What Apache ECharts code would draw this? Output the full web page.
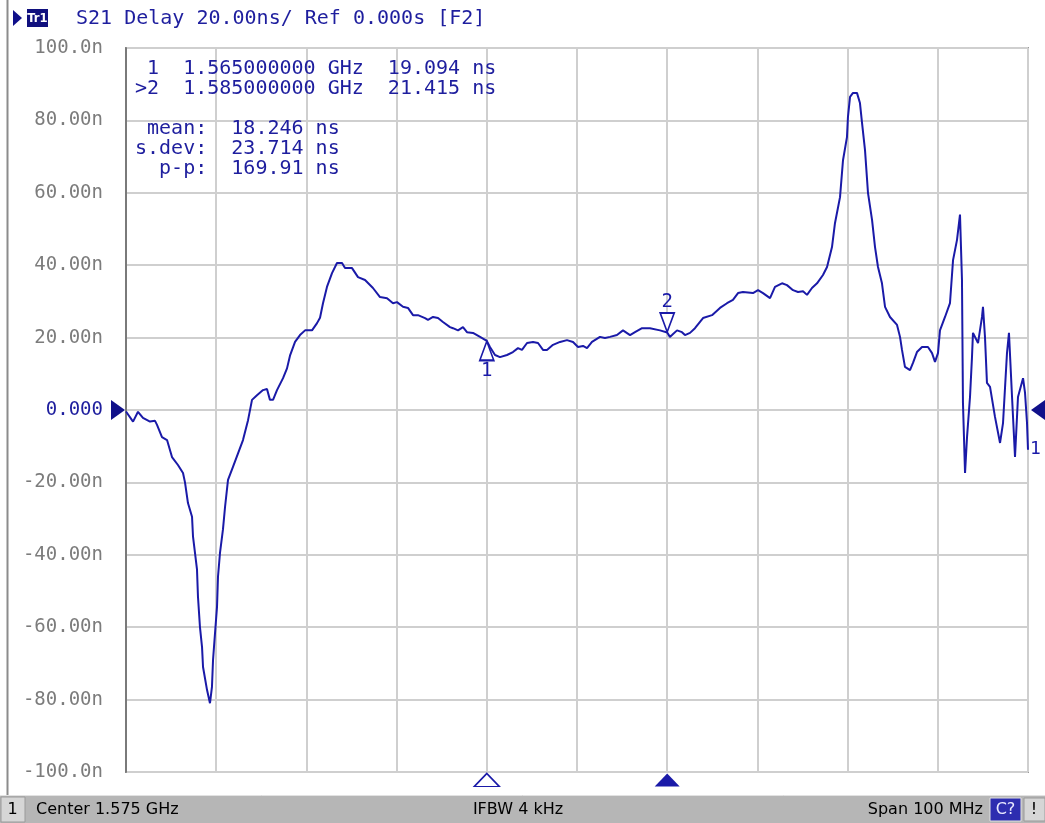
<!DOCTYPE html>
<html><head><meta charset="utf-8">
<script src="https://cdn.jsdelivr.net/npm/echarts@6/dist/echarts.min.js"></script>
<style>html,body{margin:0;padding:0;background:#fff}#c{width:1045px;height:823px}</style>
</head><body><div id="c"></div>
<script>
// Frequency offset from center (1.575 GHz), in MHz
const freqOffsetMHz = [
-50.00,-49.22,-48.67,-48.12,-47.34,-46.78,-46.56,-46.01,-45.45,-44.90,
-44.24,-43.68,-43.46,-43.13,-42.68,-42.57,-42.13,-42.02,-41.80,-41.57,
-41.46,-41.02,-40.69,-40.47,-40.35,-40.13,-39.91,-39.80,-39.58,-39.25,
-39.02,-38.69,-38.14,-37.58,-37.03,-36.47,-36.03,-35.48,-34.81,-34.37,
-34.04,-33.70,-33.26,-32.59,-32.15,-31.82,-31.26,-30.71,-30.15,-29.38,
-28.82,-28.49,-28.16,-27.72,-27.16,-26.61,-26.05,-25.72,-24.94,-24.28,
-23.50,-22.62,-21.84,-21.06,-20.40,-19.96,-19.29,-18.74,-18.18,-17.63,
-16.85,-16.52,-15.96,-15.41,-14.86,-14.08,-13.75,-13.19,-12.64,-12.20,
-11.53,-10.75,-10.00,-9.65,-9.09,-8.54,-7.76,-7.10,-6.54,-6.10,
-5.54,-4.88,-4.32,-3.77,-3.33,-2.66,-1.88,-1.11,-0.44,0.11,
0.67,1.11,1.66,2.55,3.10,3.66,4.43,5.10,5.88,6.43,
7.21,8.09,9.20,10.00,10.30,10.53,11.09,11.64,11.97,12.53,
13.08,13.97,14.97,15.85,16.63,17.29,17.85,18.40,19.51,20.07,
20.62,21.40,21.95,22.73,23.28,23.95,24.50,25.06,25.50,26.05,
26.61,27.27,27.72,28.27,28.60,29.16,29.49,29.93,30.04,30.27,
30.60,31.04,31.37,31.60,31.93,32.26,32.71,33.04,33.37,33.81,
34.15,34.70,35.48,35.81,36.03,36.36,36.92,37.25,37.69,38.25,
38.91,39.36,39.69,40.02,40.24,40.80,41.35,41.69,42.13,42.46,
42.68,42.79,43.02,43.24,43.57,43.79,43.90,44.46,44.90,45.01,
45.23,45.45,45.79,46.34,46.90,47.23,47.67,47.89,48.23,48.56,
48.89,49.45,49.67,49.89,50.00];
// S21 group delay, ns
const delayNs = [
-0.4,-3.2,-0.5,-2.2,-3.2,-3.0,-4.1,-7.5,-8.3,-13.0,
-15.2,-17.4,-20.0,-25.7,-29.5,-35.0,-44.0,-51.6,-60.0,-65.5,
-71.0,-77.3,-81.0,-76.5,-69.0,-61.6,-54.4,-46.0,-39.5,-33.0,
-26.8,-19.3,-15.7,-12.0,-8.3,-2.8,2.8,4.1,5.5,5.8,
2.8,2.8,5.5,8.8,11.5,15.0,18.8,20.7,22.0,22.0,
24.0,25.5,29.5,34.0,37.8,40.6,40.6,39.2,39.2,36.7,
35.9,33.7,31.2,30.9,29.5,29.8,28.5,28.2,26.2,26.2,
25.4,24.9,25.7,25.4,24.3,22.9,22.6,22.0,22.9,21.5,
21.3,20.2,19.094,17.4,15.2,14.6,15.2,16.0,17.1,16.6,
18.5,18.8,18.5,16.6,16.6,18.0,18.8,19.3,18.8,17.4,
17.7,17.1,18.8,20.2,19.9,20.2,20.7,22.0,20.7,21.5,
22.6,22.6,22.0,21.415,20.2,20.7,22.0,21.5,20.7,21.3,
22.6,25.4,26.2,28.2,29.5,30.4,32.3,32.6,32.3,33.1,
32.3,30.9,34.0,35.0,34.5,33.1,32.6,32.8,31.8,33.7,
35.0,37.3,39.5,45.0,51.6,58.8,69.0,75.4,81.0,86.5,
87.6,87.6,84.8,79.3,71.8,60.0,52.5,45.0,39.5,35.0,
28.5,25.7,23.5,20.2,16.6,11.9,11.0,13.0,16.0,17.4,
17.4,15.7,13.3,15.7,22.0,25.7,29.5,41.4,47.0,54.0,
35.9,1.9,-17.4,-7.5,3.6,14.6,21.3,18.5,25.7,28.5,
20.2,7.5,6.4,-1.9,-9.1,-3.6,15.7,21.3,3.6,-13.0,
3.6,8.8,4.7,-3.6,-11.0];

const yTicks = [-100,-80,-60,-40,-20,0,20,40,60,80,100];
const yTickLabels = ['-100.0n','-80.00n','-60.00n','-40.00n','-20.00n','0.000','20.00n','40.00n','60.00n','80.00n','100.0n'];

const markerNames = ['1','2'];
const markerOffsetMHz = [-10, 10];
const markerDelayNs = [19.094, 21.415];
const activeMarker = 1;

const titleText = 'S21 Delay 20.00ns/ Ref 0.000s [F2]';
const traceTag = 'Tr1';
const readoutLines = [' 1  1.565000000 GHz  19.094 ns', '>2  1.585000000 GHz  21.415 ns'];
const statLines = [' mean:  18.246 ns', 's.dev:  23.714 ns', '  p-p:  169.91 ns'];
const statusCenter = 'Center 1.575 GHz';
const statusIfbw = 'IFBW 4 kHz';
const statusSpan = 'Span 100 MHz';

const BLUE = '#1a1aa8';
const TXT = '#1e1e9e';
const GRAY = '#7c7c7c';
const MONO = '"DejaVu Sans Mono", "Liberation Mono", monospace';
const SANS = '16px "DejaVu Sans",sans-serif';
const UP = 'path://M5,0 L10,10 L0,10 Z';
const DOWN = 'path://M0,0 L10,0 L5,10 Z';
const RIGHT = 'path://M0,0 L10,5 L0,10 Z';
const LEFT = 'path://M10,0 L0,5 L10,10 Z';

const traceData = freqOffsetMHz.map((f, i) => [f, delayNs[i]]);

const mpData = [];
markerOffsetMHz.forEach((f, i) => {
  const down = i === activeMarker;
  mpData.push({
    coord: [f, markerDelayNs[i]],
    symbol: down ? DOWN : UP,
    symbolSize: [14, 19],
    symbolOffset: [0, down ? -10 : 10],
    itemStyle: {color: '#ffffff', borderColor: BLUE, borderWidth: 1.8},
    label: {show: true, formatter: markerNames[i], position: down ? 'top' : 'bottom', distance: 0,
            color: BLUE, fontFamily: MONO, fontSize: 19}
  });
  mpData.push({
    coord: [f, -100],
    symbol: UP,
    symbolSize: [25, 13],
    symbolOffset: [0, 8],
    itemStyle: down ? {color: BLUE} : {color: '#ffffff', borderColor: BLUE, borderWidth: 1.5},
    label: {show: false}
  });
});
mpData.push({coord: [-50, 0], symbol: RIGHT, symbolSize: [14, 20], symbolOffset: [-8, 0],
  itemStyle: {color: '#10108a'}, label: {show: false}});
mpData.push({coord: [50, 0], symbol: LEFT, symbolSize: [14, 20], symbolOffset: [10, 0],
  itemStyle: {color: '#10108a'}, label: {show: false}});

const graphics = [
  {type: 'line', shape: {x1: 7.5, y1: 0, x2: 7.5, y2: 795}, style: {stroke: '#8c8c8c', lineWidth: 2}, silent: true},
  {type: 'polygon', shape: {points: [[13, 10], [22, 18], [13, 26]]}, style: {fill: '#10108a'}},
  {type: 'rect', shape: {x: 27, y: 9, width: 21, height: 18}, style: {fill: '#10107e'}},
  {type: 'text', style: {x: 37.5, y: 18.5, text: traceTag, fill: '#ffffff', font: 'bold 13px "DejaVu Sans Condensed","DejaVu Sans",sans-serif', textAlign: 'center', textVerticalAlign: 'middle', verticalAlign: 'middle'}},
  {type: 'text', style: {x: 76, y: 18.5, text: titleText, fill: TXT, font: '20px ' + MONO, textAlign: 'left', textVerticalAlign: 'middle', verticalAlign: 'middle'}},
];
readoutLines.forEach((t, i) => graphics.push({type: 'text', z: 10,
  style: {x: 135, y: 69 + i * 20, text: t, fill: TXT, font: '20px ' + MONO, textAlign: 'left', textVerticalAlign: 'middle', verticalAlign: 'middle'}}));
statLines.forEach((t, i) => graphics.push({type: 'text', z: 10,
  style: {x: 135, y: 129 + i * 20, text: t, fill: TXT, font: '20px ' + MONO, textAlign: 'left', textVerticalAlign: 'middle', verticalAlign: 'middle'}}));
// status bar
graphics.push(
  {type: 'rect', shape: {x: 0, y: 795, width: 1045, height: 28}, style: {fill: '#b6b6b6'}},
  {type: 'line', shape: {x1: 0, y1: 795.5, x2: 1045, y2: 795.5}, style: {stroke: '#e2e2e2', lineWidth: 1}},
  {type: 'rect', shape: {x: 1, y: 797, width: 24, height: 25}, style: {fill: '#d6d6d6', stroke: '#9a9a9a', lineWidth: 1}},
  {type: 'text', style: {x: 12.5, y: 809.5, text: '1', fill: '#000', font: SANS, textAlign: 'center', textVerticalAlign: 'middle', verticalAlign: 'middle'}},
  {type: 'text', style: {x: 36, y: 809.5, text: statusCenter, fill: '#000', font: SANS, textAlign: 'left', textVerticalAlign: 'middle', verticalAlign: 'middle'}},
  {type: 'text', style: {x: 518, y: 809.5, text: statusIfbw, fill: '#000', font: SANS, textAlign: 'center', textVerticalAlign: 'middle', verticalAlign: 'middle'}},
  {type: 'text', style: {x: 983, y: 809.5, text: statusSpan, fill: '#000', font: SANS, textAlign: 'right', textVerticalAlign: 'middle', verticalAlign: 'middle'}},
  {type: 'rect', shape: {x: 990, y: 798, width: 31, height: 23}, style: {fill: '#2d2db0', stroke: '#e0e0e0', lineWidth: 1}},
  {type: 'text', style: {x: 1005.5, y: 809.5, text: 'C?', fill: '#e8e8ff', font: SANS, textAlign: 'center', textVerticalAlign: 'middle', verticalAlign: 'middle'}},
  {type: 'rect', shape: {x: 1024, y: 798, width: 21, height: 23}, style: {fill: '#d6d6d6', stroke: '#9a9a9a', lineWidth: 1}},
  {type: 'text', style: {x: 1034, y: 809.5, text: '!', fill: '#000', font: SANS, textAlign: 'center', textVerticalAlign: 'middle', verticalAlign: 'middle'}}
);

const chart = echarts.init(document.getElementById('c'), null, {renderer: 'canvas'});
chart.setOption({
  animation: false,
  backgroundColor: '#ffffff',
  grid: {left: 126, top: 48, width: 902, height: 724, show: true, borderColor: '#9a9a9a', borderWidth: 2, backgroundColor: '#ffffff'},
  xAxis: {
    type: 'value', min: -50, max: 50, interval: 10,
    axisLine: {show: false}, axisTick: {show: false}, axisLabel: {show: false},
    splitLine: {show: true, lineStyle: {color: '#cfcfcf', width: 2}}
  },
  yAxis: {
    type: 'value', min: -100, max: 100, interval: 20,
    axisLine: {show: true, onZero: false, lineStyle: {color: '#7a7a7a', width: 2}},
    axisTick: {show: false},
    axisLabel: {
      margin: 23, fontFamily: MONO, fontSize: 19,
      formatter: v => yTickLabels[yTicks.indexOf(Number(v))],
      color: v => Number(v) === 0 ? TXT : GRAY
    },
    splitLine: {show: true, lineStyle: {color: '#cfcfcf', width: 2}}
  },
  series: [{
    type: 'line', data: traceData, showSymbol: false, symbol: 'none', clip: false,
    lineStyle: {color: BLUE, width: 2}, itemStyle: {color: BLUE},
    endLabel: {show: true, formatter: '1', color: BLUE, fontFamily: MONO, fontSize: 18, distance: 2},
    markPoint: {data: mpData, silent: true, animation: false}
  }],
  graphic: graphics
});
</script></body></html>
